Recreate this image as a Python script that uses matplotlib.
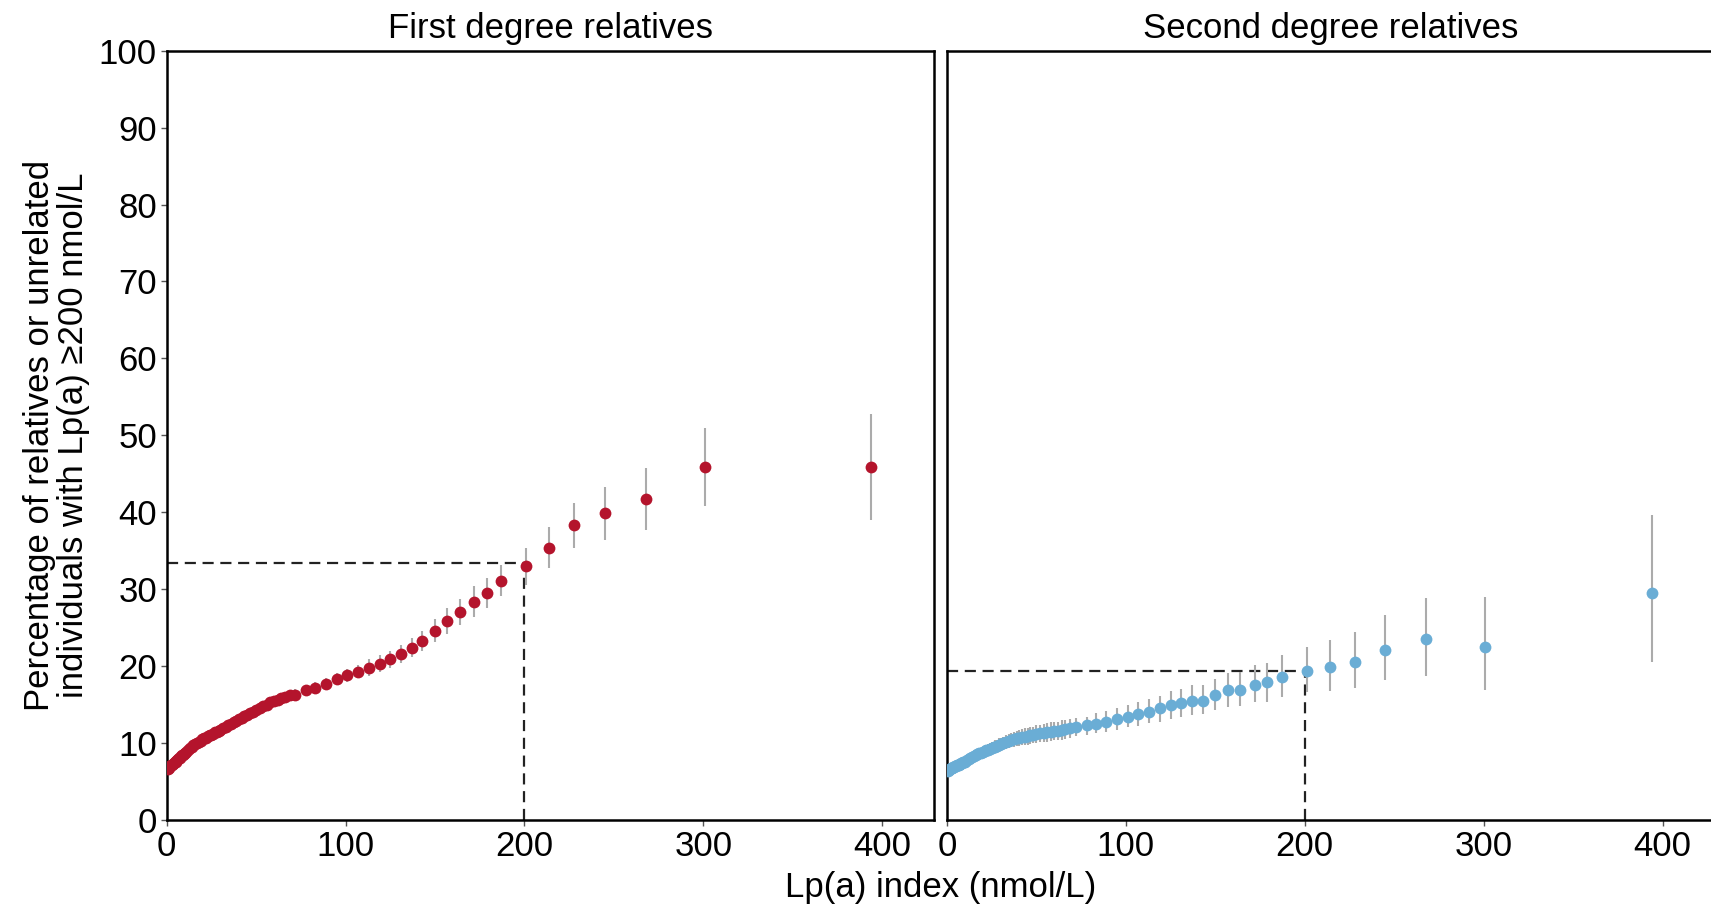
import numpy as np
import matplotlib
matplotlib.use('Agg')
import matplotlib.pyplot as plt

plt.rcParams['font.family'] = ['Liberation Sans', 'DejaVu Sans']

# first degree relatives (red)
x1 = [0.5, 1, 1.5, 2, 2.5, 3, 3.5, 4, 4.5, 5, 5.5, 6, 6.5, 7, 7.5, 8, 8.5, 9, 9.5, 10,
      11, 12, 13, 14, 15, 16, 17, 18, 19, 20, 21, 22, 23, 24, 25, 26, 27, 28, 29, 30,
      31.5, 33, 34.5, 36, 37.5, 39, 40.5, 42, 43.5, 45, 46.5, 48, 50, 52, 54, 56, 58, 60, 62, 64, 66, 69,
      72, 78, 83, 89, 95, 101, 107, 113, 119, 125, 131, 137, 143, 150, 157, 164, 172, 179, 187,
      201, 214, 228, 245, 268, 301, 394]
y1 = [6.6, 6.7, 6.8, 7.0, 7.1, 7.2, 7.3, 7.4, 7.5, 7.6, 7.7, 7.8, 7.9, 8.0, 8.1, 8.3, 8.4, 8.5, 8.6, 8.7,
      8.9, 9.1, 9.3, 9.5, 9.7, 9.9, 10.0, 10.2, 10.3, 10.5, 10.6, 10.7, 10.9, 11.0, 11.1, 11.2, 11.4, 11.5, 11.6, 11.7,
      11.9, 12.1, 12.3, 12.5, 12.7, 12.9, 13.1, 13.3, 13.5, 13.7, 13.9, 14.1, 14.3, 14.6, 14.8, 15.0, 15.3, 15.5, 15.6, 15.8, 16.0, 16.2,
      16.3, 16.9, 17.2, 17.7, 18.3, 18.8, 19.3, 19.8, 20.3, 20.9, 21.6, 22.4, 23.3, 24.6, 25.9, 27.0, 28.4, 29.5, 31.1,
      33.0, 35.4, 38.3, 39.9, 41.7, 45.9, 45.9]
err1 = [0.3, 0.3, 0.3, 0.3, 0.3, 0.3, 0.3, 0.3, 0.3, 0.3, 0.3, 0.3, 0.3, 0.3, 0.3, 0.35, 0.35, 0.35, 0.35, 0.35,
        0.35, 0.4, 0.4, 0.4, 0.4, 0.4, 0.4, 0.45, 0.45, 0.45, 0.45, 0.45, 0.45, 0.5, 0.5, 0.5, 0.5, 0.5, 0.5, 0.5,
        0.5, 0.5, 0.55, 0.55, 0.55, 0.55, 0.55, 0.6, 0.6, 0.6, 0.6, 0.6, 0.6, 0.6, 0.65, 0.65, 0.65, 0.65, 0.7, 0.7, 0.7, 0.7,
        0.7, 0.7, 0.7, 0.75, 0.8, 0.8, 0.8, 1.1, 1.1, 1.1, 1.2, 1.2, 1.3, 1.5, 1.7, 1.7, 2.0, 2.0, 2.0,
        2.4, 2.65, 2.95, 3.45, 4.05, 5.05, 6.85]

# second degree relatives (blue)
x2 = [0.5, 1, 1.5, 2, 2.5, 3, 3.5, 4, 4.5, 5, 5.5, 6, 6.5, 7, 7.5, 8, 8.5, 9, 9.5, 10,
      11, 12, 13, 14, 15, 16, 17, 18, 19, 20, 21, 22, 23, 24, 25, 26, 27, 28, 29, 30,
      31.5, 33, 34.5, 36, 37.5, 39, 40.5, 42, 43.5, 45, 46.5, 48, 50, 52, 54, 56, 58, 60, 62, 64, 66, 69,
      72, 78, 83, 89, 95, 101, 107, 113, 119, 125, 131, 137, 143, 150, 157, 164, 172, 179, 187,
      201, 214, 228, 245, 268, 301, 394]
y2 = [6.4, 6.5, 6.6, 6.7, 6.75, 6.8, 6.9, 6.95, 7.0, 7.05, 7.1, 7.15, 7.2, 7.25, 7.3, 7.4, 7.45, 7.5, 7.55, 7.6,
      7.75, 7.9, 8.0, 8.15, 8.3, 8.4, 8.55, 8.65, 8.75, 8.85, 8.95, 9.05, 9.15, 9.25, 9.35, 9.45, 9.55, 9.65, 9.75, 9.85,
      9.95, 10.1, 10.25, 10.4, 10.5, 10.6, 10.7, 10.75, 10.85, 10.9, 11.0, 11.05, 11.15, 11.25, 11.3, 11.4, 11.5, 11.55, 11.6, 11.7, 11.8, 11.9,
      12.05, 12.3, 12.5, 12.8, 13.1, 13.4, 13.8, 14.1, 14.5, 14.9, 15.2, 15.5, 15.5, 16.25, 16.9, 16.9, 17.6, 17.9, 18.6,
      19.4, 19.9, 20.6, 22.1, 23.5, 22.5, 29.5]
lo2 = [6.1, 6.2, 6.3, 6.4, 6.45, 6.5, 6.55, 6.6, 6.65, 6.7, 6.7, 6.75, 6.8, 6.85, 6.9, 6.95, 7.0, 7.05, 7.1, 7.15,
       7.25, 7.4, 7.5, 7.6, 7.75, 7.8, 7.95, 8.05, 8.1, 8.2, 8.3, 8.35, 8.45, 8.5, 8.6, 8.7, 8.75, 8.85, 8.9, 9.0,
       9.1, 9.2, 9.3, 9.45, 9.5, 9.6, 9.65, 9.7, 9.8, 9.8, 9.9, 9.95, 10.0, 10.1, 10.15, 10.2, 10.3, 10.35, 10.4, 10.45, 10.55, 10.7,
       10.9, 11.1, 11.3, 11.4, 11.7, 12.1, 12.2, 12.6, 12.8, 13.1, 13.4, 13.7, 13.8, 14.3, 14.7, 14.8, 15.4, 15.4, 16.0,
       16.6, 16.8, 17.1, 18.2, 18.7, 16.9, 20.5]
hi2 = [6.7, 6.8, 6.9, 7.0, 7.05, 7.1, 7.25, 7.3, 7.35, 7.4, 7.5, 7.55, 7.6, 7.65, 7.7, 7.85, 7.9, 7.95, 8.0, 8.05,
       8.25, 8.4, 8.5, 8.7, 8.85, 9.0, 9.15, 9.25, 9.4, 9.5, 9.6, 9.75, 9.85, 10.0, 10.1, 10.2, 10.35, 10.45, 10.6, 10.7,
       10.8, 11.0, 11.2, 11.35, 11.5, 11.6, 11.75, 11.8, 11.9, 12.0, 12.1, 12.15, 12.3, 12.4, 12.45, 12.6, 12.7, 12.75, 12.8, 12.95, 13.05, 13.1,
       13.2, 13.4, 13.9, 14.2, 14.5, 14.9, 15.4, 15.7, 16.1, 16.8, 17.0, 17.5, 17.5, 18.3, 19.1, 19.3, 20.2, 20.45, 21.5,
       22.5, 23.4, 24.4, 26.6, 28.9, 29.0, 39.7]

panel_titles = ['First degree relatives', 'Second degree relatives']
ref_x = 200
ref_y = [33.4, 19.4]
ylabel = 'Percentage of relatives or unrelated\nindividuals with Lp(a) \u2265200 nmol/L'
xlabel = 'Lp(a) index (nmol/L)'

red = '#b4142c'
blue = '#6aadd5'
grey = '#ababab'
fs = 25

fig = plt.figure(figsize=(17.11, 9.08), dpi=100)
ax1 = fig.add_axes([0.0974, 0.0969, 0.4485, 0.8473])
ax2 = fig.add_axes([0.5535, 0.0969, 0.4485, 0.8473])

x1 = np.array(x1); y1 = np.array(y1); err1 = np.array(err1)
x2 = np.array(x2); y2 = np.array(y2); lo2 = np.array(lo2); hi2 = np.array(hi2)

ax1.errorbar(x1, y1, yerr=err1, fmt='o', color=red, ecolor=grey, elinewidth=1.5,
             capsize=0, markersize=8.5, markeredgewidth=0, zorder=3)
ax2.errorbar(x2, y2, yerr=[y2 - lo2, hi2 - y2], fmt='o', color=blue, ecolor=grey, elinewidth=1.5,
             capsize=0, markersize=8.5, markeredgewidth=0, zorder=3)

for ax, ry, t in zip([ax1, ax2], ref_y, panel_titles):
    ax.plot([0, ref_x], [ry, ry], color='#222222', lw=1.6, dashes=(5, 3), zorder=2)
    ax.plot([ref_x, ref_x], [0, ry], color='#222222', lw=1.6, dashes=(5, 3), zorder=2)
    ax.set_xlim(0, 429)
    ax.set_ylim(0, 100)
    ax.set_xticks([0, 100, 200, 300, 400])
    ax.set_yticks(np.arange(0, 101, 10))
    ax.tick_params(direction='out', length=4, width=1, color='#555555', labelsize=fs, pad=3)
    for s in ax.spines.values():
        s.set_linewidth(1.8)
    ax.set_title(t, fontsize=fs, pad=9)

ax2.tick_params(axis='y', labelleft=False, length=0)
ax1.set_ylabel(ylabel, fontsize=fs, labelpad=6, linespacing=1.05)
fig.text(0.5495, 0.004, xlabel, ha='center', va='bottom', fontsize=fs)

fig.savefig('out.png', dpi=100)
